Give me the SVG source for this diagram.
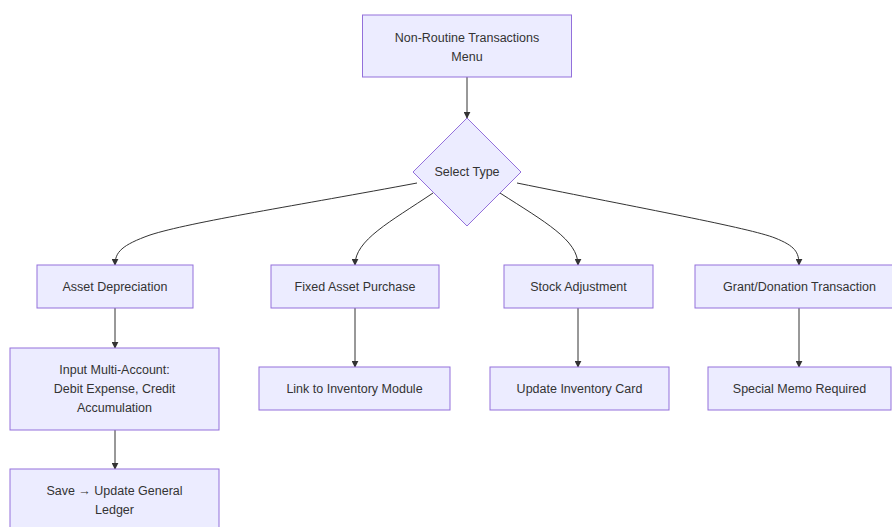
<svg xmlns="http://www.w3.org/2000/svg" width="892" height="527" viewBox="0 0 892 527">
<style>
.n{fill:#ECECFF;stroke:#9370DB;stroke-width:1}
.t{font-family:"Liberation Sans",Arial,sans-serif;font-size:12.5px;fill:#333;text-anchor:middle;dominant-baseline:central}
.e{fill:none;stroke:#333;stroke-width:1}
</style>
<defs>
<marker id="ah" viewBox="0 0 10 10" refX="9" refY="5" markerWidth="7" markerHeight="7" orient="auto" markerUnits="userSpaceOnUse">
<path d="M0,0 L10,5 L0,10 z" fill="#333"/>
</marker>
</defs>
<rect width="892" height="527" fill="#fff"/>
<g id="edges">
<path class="e" d="M467,77 L467,118" marker-end="url(#ah)"/>
<path class="e" d="M417,183 C300,205 190,222 150,235 C122,245 115,252 115,265" marker-end="url(#ah)"/>
<path class="e" d="M433,193 C390,222 355,240 355,265" marker-end="url(#ah)"/>
<path class="e" d="M500,193 C545,222 578,240 578,265" marker-end="url(#ah)"/>
<path class="e" d="M517,183 C640,208 750,228 775,238 C795,246 799,252 799,265" marker-end="url(#ah)"/>
<path class="e" d="M115,308 L115,348" marker-end="url(#ah)"/>
<path class="e" d="M115,430 L115,469" marker-end="url(#ah)"/>
<path class="e" d="M355,308 L355,367" marker-end="url(#ah)"/>
<path class="e" d="M578,308 L578,367" marker-end="url(#ah)"/>
<path class="e" d="M799,308 L799,367" marker-end="url(#ah)"/>
</g>
<g id="menu"><rect class="n" x="362.5" y="15" width="209" height="62"/><text class="t" x="467" y="37.5">Non-Routine Transactions</text><text class="t" x="467" y="56.5">Menu</text></g>
<g id="select"><polygon class="n" points="467,118 521,172 467,226 413,172"/><text class="t" x="467" y="172">Select Type</text></g>
<g id="depr"><rect class="n" x="37" y="265" width="156" height="43"/><text class="t" x="115" y="286.5">Asset Depreciation</text></g>
<g id="fixed"><rect class="n" x="271" y="265" width="168" height="43"/><text class="t" x="355" y="286.5">Fixed Asset Purchase</text></g>
<g id="stock"><rect class="n" x="504" y="265" width="149" height="43"/><text class="t" x="578.5" y="286.5">Stock Adjustment</text></g>
<g id="grant"><rect class="n" x="695" y="265" width="209" height="43"/><text class="t" x="799.5" y="286.5">Grant/Donation Transaction</text></g>
<g id="input"><rect class="n" x="10" y="348" width="209" height="82"/><text class="t" x="114.5" y="370">Input Multi-Account:</text><text class="t" x="114.5" y="389">Debit Expense, Credit</text><text class="t" x="114.5" y="408">Accumulation</text></g>
<g id="link"><rect class="n" x="259" y="367" width="191" height="43"/><text class="t" x="354.5" y="388.5">Link to Inventory Module</text></g>
<g id="card"><rect class="n" x="490" y="367" width="179" height="43"/><text class="t" x="579.5" y="388.5">Update Inventory Card</text></g>
<g id="memo"><rect class="n" x="708" y="367" width="183" height="43"/><text class="t" x="799.5" y="388.5">Special Memo Required</text></g>
<g id="save"><rect class="n" x="10" y="469" width="209" height="62"/><text class="t" x="114.5" y="491">Save → Update General</text><text class="t" x="114.5" y="510">Ledger</text></g>
</svg>
